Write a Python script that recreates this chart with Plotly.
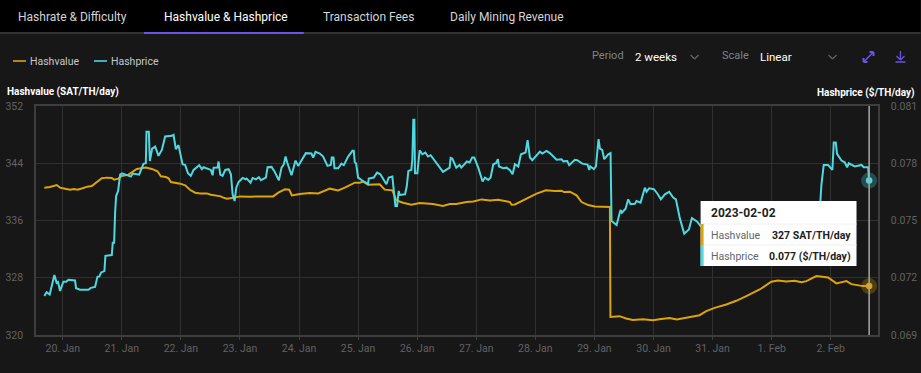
import pandas as pd
import plotly.graph_objects as go

START = pd.Timestamp("2023-01-20")

# days since 20 Jan 2023
hashvalue_days = [-0.311,-0.215,-0.102,-0.045,0.040,0.124,0.192,0.249,0.350,0.418,0.492,0.576,0.661,0.746,0.831,0.870,0.944,0.983,1.113,1.254,1.407,1.508,1.605,1.661,1.746,1.791,1.831,1.989,2.073,2.158,2.243,2.328,2.441,2.508,2.610,2.678,2.706,2.780,2.893,2.977,3.0,3.169,3.338,3.563,3.648,3.761,3.834,3.879,4.014,4.183,4.324,4.521,4.662,4.775,4.944,5.028,5.085,5.169,5.366,5.451,5.580,5.648,5.761,5.901,6.042,6.268,6.437,6.549,6.662,6.803,6.836,6.949,7.090,7.231,7.372,7.570,7.598,7.654,7.739,7.880,8.021,8.179,8.331,8.444,8.484,8.585,8.698,8.782,8.895,9.008,9.149,9.262,9.271,9.424,9.537,9.650,9.819,9.989,10.130,10.271,10.395,10.525,10.667,10.780,10.893,11.034,11.232,11.401,11.571,11.797,11.994,12.107,12.249,12.390,12.503,12.588,12.757,12.870,12.955,13.096,13.181,13.266,13.350,13.463,13.548,13.650]
hashvalue_sat = [340.59,340.68,340.96,340.59,340.45,340.31,340.40,340.31,340.54,340.73,340.82,341.38,341.90,341.99,341.94,341.71,341.85,342.18,342.41,343.21,343.39,343.21,342.88,342.18,342.08,341.90,341.38,341.15,340.92,340.26,339.89,339.79,339.79,339.61,339.47,339.37,339.23,339.05,339.19,339.33,339.37,339.33,339.33,339.37,339.89,340.36,340.31,339.51,339.70,339.84,339.79,340.45,340.21,340.59,341.29,341.29,341.43,341.01,341.06,340.31,340.21,338.81,338.48,338.21,338.44,338.30,338.02,338.30,338.30,338.58,338.58,338.67,338.95,338.81,338.91,338.58,338.21,338.25,338.58,339.23,339.75,340.21,340.12,340.17,339.98,340.03,339.51,338.58,338.16,337.97,337.93,337.88,322.53,322.63,322.30,322.11,322.21,322.07,322.25,322.39,322.16,322.39,322.67,322.77,323.33,323.79,324.26,324.78,325.43,326.36,327.44,327.63,327.49,327.58,327.39,327.53,328.23,328.14,328.05,327.21,327.39,327.53,327.11,326.97,326.83,326.83]

hashprice_days = [-0.311,-0.271,-0.220,-0.141,-0.102,-0.079,-0.045,0.011,0.056,0.096,0.209,0.226,0.294,0.435,0.475,0.548,0.588,0.621,0.650,0.706,0.723,0.831,0.847,0.870,0.887,0.904,0.938,0.972,1.006,1.113,1.153,1.186,1.294,1.367,1.407,1.418,1.458,1.475,1.514,1.565,1.621,1.678,1.734,1.847,1.876,1.915,1.960,2.028,2.073,2.119,2.169,2.215,2.311,2.356,2.384,2.508,2.537,2.554,2.621,2.638,2.667,2.706,2.751,2.808,2.847,2.876,2.910,2.938,2.977,3.045,3.096,3.113,3.180,3.214,3.270,3.321,3.355,3.439,3.468,3.535,3.580,3.659,3.704,3.744,3.772,3.800,3.873,3.941,3.986,4.115,4.211,4.239,4.279,4.352,4.408,4.482,4.538,4.555,4.583,4.600,4.662,4.718,4.758,4.831,4.904,4.927,4.944,4.966,5.000,5.085,5.169,5.180,5.265,5.321,5.377,5.479,5.518,5.580,5.603,5.631,5.659,5.687,5.704,5.794,5.823,5.851,5.901,5.918,5.935,5.952,5.963,6.003,6.042,6.087,6.138,6.183,6.228,6.296,6.437,6.549,6.566,6.594,6.662,6.718,6.746,6.842,6.887,6.932,6.966,7.034,7.107,7.147,7.203,7.243,7.288,7.333,7.367,7.384,7.457,7.513,7.570,7.615,7.654,7.711,7.756,7.835,7.869,7.908,7.948,8.077,8.117,8.190,8.246,8.359,8.444,8.472,8.540,8.574,8.669,8.709,8.794,8.884,8.912,8.929,8.991,9.025,9.070,9.093,9.132,9.166,9.234,9.273,9.290,9.375,9.442,9.465,9.527,9.572,9.611,9.685,9.713,9.781,9.854,9.882,9.927,10.006,10.062,10.125,10.192,10.266,10.333,10.379,10.446,10.520,10.599,10.650,10.740,10.791,11.006,11.232,11.571,11.910,12.249,12.531,12.757,12.825,12.842,12.881,12.955,13.028,13.051,13.085,13.107,13.181,13.237,13.277,13.305,13.407,13.520,13.559,13.633,13.650]
hashprice_usd = [.07105,.07124,.07112,.07214,.07173,.07177,.07131,.07179,.07179,.07189,.07186,.07145,.07137,.07137,.07147,.07152,.07205,.07207,.07228,.07235,.07315,.07319,.07383,.07383,.07541,.07628,.07655,.07740,.07747,.07735,.07730,.07746,.07740,.07797,.07800,.07965,.07965,.07812,.07877,.07888,.07839,.07870,.07940,.07944,.07949,.07874,.07895,.07795,.07791,.07748,.07734,.07765,.07790,.07769,.07779,.07765,.07737,.07776,.07777,.07809,.07740,.07734,.07765,.07769,.07742,.07637,.07602,.07672,.07702,.07723,.07716,.07720,.07698,.07723,.07716,.07727,.07711,.07725,.07779,.07781,.07760,.07711,.07777,.07795,.07835,.07804,.07737,.07814,.07786,.07853,.07851,.07830,.07860,.07851,.07835,.07786,.07791,.07830,.07830,.07774,.07774,.07798,.07790,.07835,.07865,.07865,.07804,.07800,.07725,.07707,.07692,.07720,.07725,.07751,.07742,.07690,.07725,.07730,.07646,.07576,.07576,.07655,.07634,.07637,.07678,.07760,.07765,.07821,.08028,.08028,.07748,.07748,.07868,.07847,.07856,.07835,.07842,.07812,.07755,.07777,.07828,.07825,.07777,.07791,.07777,.07809,.07804,.07830,.07830,.07777,.07704,.07725,.07713,.07725,.07795,.07800,.07821,.07783,.07774,.07777,.07763,.07742,.07795,.07783,.07847,.07856,.07921,.07830,.07816,.07861,.07851,.07865,.07853,.07818,.07821,.07810,.07812,.07790,.07818,.07816,.07798,.07793,.07765,.07783,.07769,.07783,.07926,.07877,.07870,.07821,.07847,.07853,.07497,.07476,.07555,.07541,.07562,.07611,.07586,.07588,.07602,.07594,.07672,.07651,.07669,.07664,.07643,.07611,.07637,.07650,.07620,.07611,.07511,.07431,.07453,.07513,.07494,.07473,.07415,.07362,.07380,.07380,.07398,.07415,.07468,.07602,.07686,.07791,.07791,.07765,.07909,.07909,.07849,.07814,.07805,.07779,.07800,.07783,.07791,.07779,.07779,.07709]

left_ticks = [320, 328, 336, 344, 352]
right_ticks = [0.069, 0.072, 0.075, 0.078, 0.081]
tabs = ["Hashrate & Difficulty", "Hashvalue & Hashprice", "Transaction Fees", "Daily Mining Revenue"]

ORANGE = "#dca30b"
CYAN = "#4fd8e0"
BG = "#171717"
GRID = "#303030"
AXIS = "#3e3e3e"
PURPLE = "#6a55e8"
FONT = "Roboto"
TICK = "#626262"

W, H = 921, 373
L, R, T, B = 36, 878.5, 106, 335
def px(x): return (x - L) / (R - L)
def py(y): return (B - y) / (B - T)

def to_dates(days):
    return START + pd.to_timedelta(days, unit="D")

hv_x = to_dates(hashvalue_days)
hp_x = to_dates(hashprice_days)

fig = go.Figure()
fig.add_trace(go.Scatter(x=hv_x, y=hashvalue_sat, name="Hashvalue", mode="lines",
                         line=dict(color=ORANGE, width=2), yaxis="y"))
fig.add_trace(go.Scatter(x=hp_x, y=hashprice_usd, name="Hashprice", mode="lines",
                         line=dict(color=CYAN, width=2), yaxis="y2"))
# end-point markers with halo
for xs, ys, c, ax in [(hv_x, hashvalue_sat, ORANGE, "y"), (hp_x, hashprice_usd, CYAN, "y2")]:
    fig.add_trace(go.Scatter(x=[xs[-1]], y=[ys[-1]], mode="markers", yaxis=ax, showlegend=False,
                             marker=dict(color=c, size=16, opacity=0.28, line=dict(width=0))))
    fig.add_trace(go.Scatter(x=[xs[-1]], y=[ys[-1]], mode="markers", yaxis=ax, showlegend=False,
                             marker=dict(color=c, size=6.5, line=dict(width=0))))

shapes = []
def rect(x0, y0, x1, y1, color, layer="above"):
    shapes.append(dict(type="rect", xref="paper", yref="paper", x0=px(x0), x1=px(x1), y0=py(y0), y1=py(y1),
                       fillcolor=color, line=dict(width=0), layer=layer))
def seg(x0, y0, x1, y1, color, width=1.2, layer="above"):
    shapes.append(dict(type="line", xref="paper", yref="paper", x0=px(x0), x1=px(x1), y0=py(y0), y1=py(y1),
                       line=dict(color=color, width=width), layer=layer))

# header band and tabs
rect(0, 0, W, 32, "#000000", "below")
rect(0, 32, W, 34, "#333333", "below")
rect(144, 32, 304, 34, PURPLE, "below")
# legend samples
seg(13, 61, 26, 61, ORANGE, 1.6)
seg(94, 61, 107, 61, CYAN, 1.6)
# chevrons
for cx in (695, 833):
    seg(cx - 4, 55, cx, 59, "#666666")
    seg(cx, 59, cx + 4, 55, "#666666")
# expand icon
seg(864, 62, 874, 52, PURPLE, 1.5)
seg(864, 62, 864, 58, PURPLE, 2)
seg(864, 62, 868, 62, PURPLE, 2)
seg(874, 52, 874, 56, PURPLE, 2)
seg(874, 52, 870, 52, PURPLE, 2)
# download icon
seg(901, 51, 901, 59, PURPLE, 1.3)
seg(897, 56, 901, 60, PURPLE, 1.3)
seg(901, 60, 905, 56, PURPLE, 1.3)
seg(896, 62, 906, 62, PURPLE, 1.5)
# crosshair
shapes.append(dict(type="line", xref="x", yref="paper", x0=hv_x[-1], x1=hv_x[-1], y0=0, y1=1,
                   line=dict(color="#a8a8a8", width=1.5), layer="above"))
# tooltip
rect(701, 201, 857, 266, "#ffffff")
seg(702, 224, 857, 224, "#f0f0f0", 1)
seg(702, 245, 857, 245, "#f0f0f0", 1)
rect(701, 224, 704, 245, ORANGE)
rect(701, 245, 704, 266, CYAN)

anns = []
def text(x, y, s, color, size=11, anchor="left", bold=False):
    anns.append(dict(xref="paper", yref="paper", x=px(x), y=py(y), text=f"<b>{s}</b>" if bold else s,
                     showarrow=False, xanchor=anchor, yanchor="middle",
                     font=dict(family=FONT, size=size, color=color), xshift=0, yshift=0, borderpad=0, borderwidth=0))

tab_x = [18, 164, 323, 450]
for i, (tx, t) in enumerate(zip(tab_x, tabs)):
    text(tx, 17, t, "#ffffff" if i == 1 else "#d4d4d4", 12)
text(30, 61, "Hashvalue", "#c4c8d0", 10.5)
text(111, 61, "Hashprice", "#c4c8d0", 10.5)
text(7, 92, "Hashvalue (SAT/TH/day)", "#ffffff", 10, bold=True)
text(916, 92, "Hashprice ($/TH/day)", "#ffffff", 10, "right", bold=True)
text(592, 56, "Period", "#7d838c", 11)
text(635, 57, "2 weeks", "#ffffff", 11.5)
text(722, 56, "Scale", "#7d838c", 11)
text(760, 57, "Linear", "#ffffff", 11.5)
text(711, 213, "2023-02-02", "#222222", 12, bold=True)
text(711, 235, "Hashvalue", "#5c6670", 10.5)
text(851, 235, "327 SAT/TH/day", "#222222", 10.5, "right", bold=True)
text(711, 256, "Hashprice", "#5c6670", 10.5)
text(851, 256, "0.077 ($/TH/day)", "#222222", 10.5, "right", bold=True)

fig.update_layout(
    width=W, height=H, autosize=False, showlegend=False,
    margin=dict(l=L, r=W - R, t=T, b=H - B, pad=0, autoexpand=False),
    paper_bgcolor=BG, plot_bgcolor=BG,
    font=dict(family=FONT, size=11, color=TICK),
    shapes=shapes, annotations=anns, hovermode=False,
    xaxis=dict(type="date", range=["2023-01-19 13:09", "2023-02-02 19:12"], automargin=False,
               tick0="2023-01-20", dtick=86400000, tickformat="%-d. %b",
               showgrid=True, gridcolor=GRID, gridwidth=1, zeroline=False,
               showline=True, linecolor=AXIS, linewidth=1.5, mirror=True,
               ticks="outside", ticklen=3, tickcolor=AXIS,
               tickfont=dict(family=FONT, size=10.5, color=TICK)),
    yaxis=dict(range=[320, 352], tickvals=left_ticks, showgrid=True, gridcolor=GRID, gridwidth=1, automargin=False,
               zeroline=False, showline=True, linecolor=AXIS, linewidth=1.5,
               ticklabelstandoff=9, tickfont=dict(family=FONT, size=10.5, color=TICK)),
    yaxis2=dict(range=[0.069, 0.081], tickvals=right_ticks, tickformat=".3f", overlaying="y", side="right", automargin=False,
                showgrid=False, zeroline=False, showline=True, linecolor=AXIS, linewidth=1.5,
                ticklabelstandoff=9, tickfont=dict(family=FONT, size=10.5, color=TICK)),
)

fig.write_html("out.html", config={"displayModeBar": False},
               post_script="document.documentElement.style.overflow='hidden';document.body.style.margin='0';document.body.style.background='#171717';window.dispatchEvent(new Event('resize'));")
